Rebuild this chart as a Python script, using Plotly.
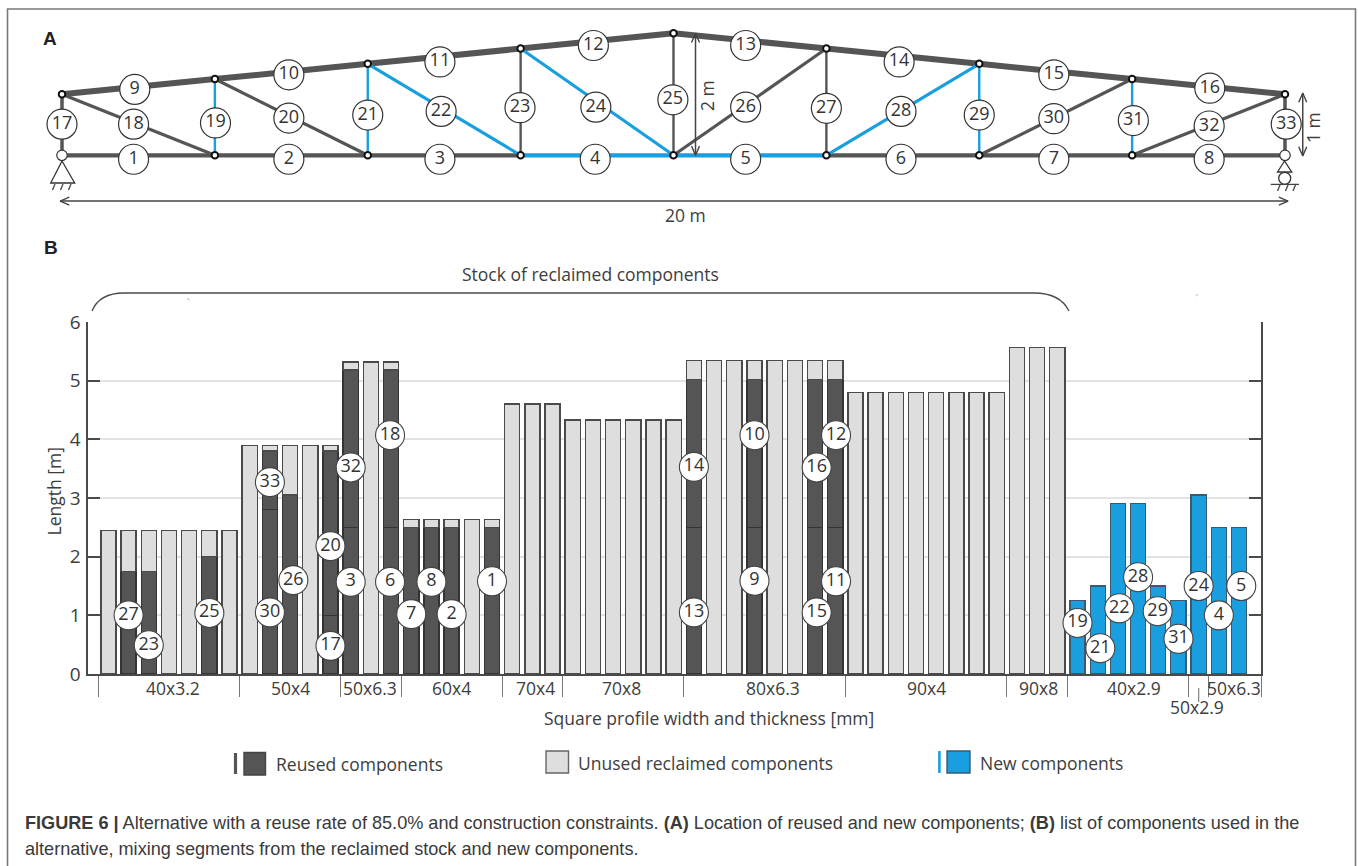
import plotly.graph_objects as go

W, H = 1358, 866
DARK, LIGHT, BLUE = "#555555", "#dedede", "#199fdf"
INK, TXT = "#3a3a3a", "#3d3d3d"
FONT, CAPFONT = "Open Sans", "Liberation Sans"

# ---------- Panel A: truss (metres) ----------
node_x = [0, 2.5, 5, 7.5, 10, 12.5, 15, 17.5, 20]
top_y = [1, 1.25, 1.5, 1.75, 2, 1.75, 1.5, 1.25, 1]
# member number -> (kind start node, kind end node); "b" bottom chord, "t" top chord
member_ids = list(range(1, 34))
member_ends = [
    ("b0", "b1"), ("b1", "b2"), ("b2", "b3"), ("b3", "b4"), ("b4", "b5"), ("b5", "b6"), ("b6", "b7"), ("b7", "b8"),
    ("t0", "t1"), ("t1", "t2"), ("t2", "t3"), ("t3", "t4"), ("t4", "t5"), ("t5", "t6"), ("t6", "t7"), ("t7", "t8"),
    ("b0", "t0"), ("t0", "b1"), ("b1", "t1"), ("t1", "b2"), ("b2", "t2"), ("t2", "b3"), ("b3", "t3"), ("t3", "b4"),
    ("b4", "t4"), ("b4", "t5"), ("b5", "t5"), ("b5", "t6"), ("b6", "t6"), ("b6", "t7"), ("b7", "t7"), ("b7", "t8"),
    ("b8", "t8"),
]
new_members = [4, 5, 19, 21, 22, 24, 28, 29, 31]
member_label_x = [1.17, 3.71, 6.18, 8.72, 11.18, 13.72, 16.22, 18.76,
                  1.19, 3.71, 6.18, 8.69, 11.18, 13.69, 16.22, 18.77,
                  0, 1.17, 2.51, 3.71, 5.0, 6.2, 7.49, 8.73, 9.99, 11.18, 12.5, 13.72, 15.0, 16.22, 17.52, 18.76, 20.02]
member_label_y = [-0.065] * 8 + [1.08, 1.32, 1.53, 1.80, 1.80, 1.53, 1.32, 1.10,
                  0.51, 0.51, 0.53, 0.61, 0.66, 0.72, 0.78, 0.79, 0.91, 0.79, 0.77, 0.72, 0.66, 0.60, 0.57, 0.48, 0.51]

# ---------- Panel B: stock and components (metres) ----------
group_labels = ["40x3.2", "50x4", "50x6.3", "60x4", "70x4", "70x8", "80x6.3", "90x4", "90x8", "40x2.9", "50x2.9", "50x6.3"]
group_counts = [7, 5, 3, 5, 3, 6, 8, 8, 3, 6, 1, 2]
group_label_pos = [3.2, 9.03, 12.96, 17.0, 21.13, 25.39, 32.92, 40.54, 46.09, 50.8, 53.92, 55.75]
stock_lengths = [2.45] * 7 + [3.9] * 5 + [5.32] * 3 + [2.63] * 5 + [4.6] * 3 + [4.33] * 6 + [5.34] * 8 + [4.8] * 8 + [5.57] * 3
reused_lower = [None, 1.75, 1.75, None, None, 2.0, None,
                None, 2.8, 3.05, None, 1.0,
                2.5, None, 2.5,
                2.5, 2.5, 2.5, None, 2.5,
                None, None, None,
                None, None, None, None, None, None,
                2.5, None, None, 2.5, None, None, 2.5, 2.5,
                None, None, None, None, None, None, None, None,
                None, None, None]
reused_upper = [None] * 8 + [1.0, None, None, 2.8,
                2.68, None, 2.68,
                None, None, None, None, None,
                None, None, None,
                None, None, None, None, None, None,
                2.52, None, None, 2.52, None, None, 2.52, 2.52,
                None, None, None, None, None, None, None, None,
                None, None, None]
new_lengths = [1.25, 1.5, 2.91, 2.91, 1.5, 1.25, 3.05, 2.5, 2.5]
circle_ids = [27, 23, 25, 33, 30, 26, 20, 17, 32, 3, 18, 6, 7, 8, 2, 1, 14, 13, 10, 9, 16, 15, 12, 11,
              19, 21, 22, 28, 29, 31, 24, 4, 5]
circle_x = [1, 2, 5, 8, 8, 9.16, 11, 11, 12, 12, 13.95, 13.95, 15, 16, 17, 19, 29, 29, 32, 32, 35.08, 35.08, 36.04, 36.04,
            48, 49.13, 50.07, 51, 51.97, 53, 54, 55, 56.11]
circle_y = [1.0, 0.49, 1.04, 3.27, 1.05, 1.6, 2.18, 0.48, 3.52, 1.57, 4.07, 1.57, 1.02, 1.57, 1.02, 1.58,
            3.53, 1.05, 4.07, 1.59, 3.52, 1.05, 4.07, 1.58,
            0.87, 0.44, 1.12, 1.65, 1.07, 0.6, 1.50, 1.0, 1.5]

n_stock = len(stock_lengths)
n_all = n_stock + len(new_lengths)
bars = list(range(n_all))
unused = []
for i in range(n_stock):
    unused.append(round(stock_lengths[i] - (reused_lower[i] or 0) - (reused_upper[i] or 0), 3))

fig = go.Figure()

PX0, PY0 = 108.4, 674.0   # centre of bar 0 and the zero line in pixels
PITCH, YS = 20.19, 58.67
x_lo, x_hi = (88.3 - PX0) / PITCH, (1261 - PX0) / PITCH

bar_common = dict(xaxis="x", yaxis="y", width=0.75, showlegend=False, hoverinfo="skip")
fig.add_bar(x=bars[:n_stock], y=reused_lower, marker=dict(color=DARK, line=dict(color="#333333", width=1.4)), name="Reused components", **bar_common)
fig.add_bar(x=bars[:n_stock], y=reused_upper, marker=dict(color=DARK, line=dict(color="#333333", width=1.4)), name="Reused components", **bar_common)
fig.add_bar(x=bars[:n_stock], y=unused, marker=dict(color=LIGHT, line=dict(color="#4a4a4a", width=1.4)), name="Unused reclaimed components", **bar_common)
fig.add_bar(x=bars[n_stock:], y=new_lengths, marker=dict(color=BLUE, line=dict(color="#3a5a70", width=1.2)), name="New components", **bar_common)

fig.add_scatter(x=circle_x, y=circle_y, xaxis="x", yaxis="y", mode="markers+text", text=[str(c) for c in circle_ids],
                textposition="middle center", cliponaxis=False, showlegend=False, hoverinfo="skip",
                marker=dict(size=29, color="white", line=dict(color="#444444", width=1.1)),
                textfont=dict(family=FONT, size=18, color="#333333"))


def node(name):
    i = int(name[1:])
    return node_x[i], (top_y[i] if name[0] == "t" else 0)


for mid, (a, b) in zip(member_ids, member_ends):
    xa, ya = node(a)
    xb, yb = node(b)
    if mid <= 8:
        w = 4.2
    elif mid <= 16:
        w = 6
    elif mid in (17, 33):
        w = 3.5
    elif mid in (19, 21, 23, 25, 27, 29, 31):
        w = 2.4
    else:
        w = 3.2
    fig.add_scatter(x=[xa, xb], y=[ya, yb], xaxis="x2", yaxis="y2", mode="lines", showlegend=False, hoverinfo="skip",
                    line=dict(color=BLUE if mid in new_members else DARK, width=w))

# dimension lines (through the truss scale); chevron arms in metres
DIM = "#444444"
a = 0.15
b = 0.065
dims = [
    ([-0.03, 20.05], [-0.75, -0.75], [(-0.03, -0.75, 1, 0), (20.05, -0.75, -1, 0)]),
    ([10.36, 10.36], [0.0, 2.0], [(10.36, 0.0, 0, 1), (10.36, 2.0, 0, -1)]),
    ([20.29, 20.29], [-0.01, 1.02], [(20.29, -0.01, 0, 1), (20.29, 1.02, 0, -1)]),
]
for xs, ys, heads in dims:
    fig.add_scatter(x=xs, y=ys, xaxis="x2", yaxis="y2", mode="lines", showlegend=False, hoverinfo="skip",
                    line=dict(color=DIM, width=1.5))
    for hx, hy, dx, dy in heads:
        px_ = [hx + dx * a + dy * b, hx, hx + dx * a - dy * b]
        py_ = [hy + dy * a + dx * b, hy, hy + dy * a - dx * b]
        fig.add_scatter(x=px_, y=py_, xaxis="x2", yaxis="y2", mode="lines", showlegend=False, hoverinfo="skip",
                        line=dict(color=DIM, width=1.4))

# inner nodes
fig.add_scatter(x=node_x + node_x[1:-1], y=top_y + [0] * 7, xaxis="x2", yaxis="y2", mode="markers", showlegend=False,
                hoverinfo="skip", marker=dict(size=6.5, color="white", line=dict(color="#111111", width=2)))
# support pins
fig.add_scatter(x=[node_x[0], node_x[-1]], y=[0, 0], xaxis="x2", yaxis="y2", mode="markers", showlegend=False,
                hoverinfo="skip", marker=dict(size=10.5, color="white", line=dict(color="#333333", width=1.2)))
# member labels
fig.add_scatter(x=member_label_x, y=member_label_y, xaxis="x2", yaxis="y2", mode="markers+text",
                text=[str(m) for m in member_ids], textposition="middle center", showlegend=False, hoverinfo="skip",
                marker=dict(size=30, color="white", line=dict(color="#333333", width=1.2)),
                textfont=dict(family=FONT, size=18, color="#333333"))


def fx(x):
    return x / W


def fy(y):
    return 1 - y / H


def seg(x0, y0, x1, y1, color="#444444", width=1.3):
    return dict(type="line", xref="paper", yref="paper", x0=fx(x0), y0=fy(y0), x1=fx(x1), y1=fy(y1),
                line=dict(color=color, width=width))


def path(points, color="#444444", width=1.3, fill=None):
    d = ""
    for cmd, *pts in points:
        d += cmd + " ".join(f"{fx(pts[i]):.5f},{fy(pts[i + 1]):.5f}" for i in range(0, len(pts), 2)) + " "
    s = dict(type="path", xref="paper", yref="paper", path=d.strip(), line=dict(color=color, width=width))
    if fill:
        s["fillcolor"] = fill
    return s


def rect(x0, y0, x1, y1, fill, line):
    return dict(type="rect", xref="paper", yref="paper", x0=fx(x0), y0=fy(y0), x1=fx(x1), y1=fy(y1),
                fillcolor=fill, line=dict(color=line, width=1.4))


shapes = [
    # frame
    path([("M", 7.5, 866), ("L", 7.5, 9), ("L", 1355.5, 9), ("L", 1355.5, 866)], color="#7a7a7a", width=1.6),
    # left support
    path([("M", 62, 161), ("L", 50.7, 183), ("L", 74.7, 183), ("Z",)], width=1.3, color="#333333"),
    seg(55, 184, 52.5, 190), seg(63, 184, 60.5, 190), seg(71, 184, 68.5, 190),
    # right support
    path([("M", 1284.5, 161), ("L", 1277.5, 172), ("L", 1291.7, 172), ("Z",)], width=1.3, color="#333333"),
    dict(type="circle", xref="paper", yref="paper", x0=fx(1278.7), x1=fx(1290.7), y0=fy(172.3), y1=fy(184.3),
         fillcolor="white", line=dict(color="#333333", width=1.3)),
    seg(1270.7, 184.4, 1299, 184.4), seg(1280, 185, 1277.5, 191), seg(1288, 185, 1285.5, 191), seg(1295.5, 185, 1293, 191),
    # brace
    path([("M", 92, 311), ("C", 97, 299, 108, 293, 124, 293), ("L", 1034, 293), ("C", 1050, 293, 1063, 299, 1069, 311)],
         color="#4a4a4a", width=1.3),
    seg(187, 298.5, 189.5, 300, color="#b5b5b5", width=1), seg(1195.5, 296, 1198, 294, color="#b5b5b5", width=1),
    # legend swatches
    seg(235.5, 753, 235.5, 774, color=DARK, width=3.2),
    rect(244, 752.5, 265.5, 775, DARK, "#444444"),
    rect(546, 751, 568.5, 773, LIGHT, "#666666"),
    seg(939.4, 751, 939.4, 773, color=BLUE, width=2.6),
    rect(947, 751, 970, 773, BLUE, "#3a5a70"),
    # short tick of the 50x2.9 group
    seg(1198.7, 688, 1198.7, 702, color="#777777", width=1.1),
]


def note(text, x, y, size=17.5, family=FONT, color=TXT, anchor="left", angle=0):
    return dict(text=text, xref="paper", yref="paper", x=fx(x), y=fy(y), xanchor=anchor, yanchor="middle",
                showarrow=False, textangle=angle, font=dict(family=family, size=size, color=color))


# group labels through the bar scale
group_ann = []
for i, (lab, pos) in enumerate(zip(group_labels, group_label_pos)):
    shift = -33 if lab == "50x2.9" else -14
    group_ann.append(dict(text=lab, xref="x", yref="y", x=pos, y=0, yanchor="middle", xanchor="center",
                          yshift=shift, showarrow=False, font=dict(family=FONT, size=17.5, color=TXT)))

cap1 = ("<b>FIGURE 6 |</b> Alternative with a reuse rate of 85.0% and construction constraints. <b>(A)</b> Location of "
        "reused and new components; <b>(B)</b> list of components used in the")
cap2 = "alternative, mixing segments from the reclaimed stock and new components."

annotations = group_ann + [
    note("<b>A</b>", 41, 39, size=19, family=CAPFONT, color="#222222"),
    note("<b>B</b>", 42, 248, size=19, family=CAPFONT, color="#222222"),
    note("20 m", 685, 215, anchor="center"),
    note("2 m", 707, 96, anchor="center", angle=-90),
    note("1 m", 1313, 128, anchor="center", angle=-90),
    note("Stock of reclaimed components", 590, 274, anchor="center"),
    note("Square profile width and thickness [mm]", 708.5, 718, anchor="center"),
    note("Length [m]", 53, 491.5, anchor="center", angle=-90),
    note("Reused components", 273.5, 763.5),
    note("Unused reclaimed components", 575.5, 762.5),
    note("New components", 977.5, 762.5),
    note(cap1, 22.5, 822.5, size=18.1, family=CAPFONT, color="#3a3a3a"),
    note(cap2, 22.5, 849, size=18.1, family=CAPFONT, color="#3a3a3a"),
]

boundaries = [-0.5]
for c in group_counts:
    boundaries.append(boundaries[-1] + c)
boundaries[-1] = x_hi

px_m, py_m = 61.15, 61.0
top_h = 240
fig.update_layout(
    width=W, height=H, margin=dict(l=0, r=0, t=0, b=0, pad=0, autoexpand=False), paper_bgcolor="white", plot_bgcolor="rgba(0,0,0,0)",
    barmode="stack", showlegend=False, shapes=shapes, annotations=annotations,
    xaxis=dict(domain=[88.3 / W, 1261 / W], range=[x_lo, x_hi], tickmode="array", tickvals=boundaries,
               ticks="outside", ticklen=21, tickwidth=1.1, tickcolor="#777777", showticklabels=False, showgrid=False,
               showline=True, linecolor="#4a4a4a", linewidth=1.6, zeroline=False, automargin=False),
    yaxis=dict(domain=[1 - PY0 / H, 1 - 322 / H], range=[0, 6], tickmode="array", tickvals=[0, 1, 2, 3, 4, 5, 6],
               ticks="inside", ticklen=12, tickwidth=1.6, tickcolor="#4a4a4a", mirror="ticks", showline=True,
               linecolor="#4a4a4a", linewidth=1.6, showgrid=True, gridcolor="#e3e3e3", gridwidth=1.5, zeroline=False,
               tickfont=dict(family=FONT, size=19, color=TXT), ticklabelstandoff=2, automargin=False),
    xaxis2=dict(domain=[0, 1], range=[-62 / px_m, (W - 62) / px_m], visible=False, anchor="y2", fixedrange=True),
    yaxis2=dict(domain=[1 - top_h / H, 1], range=[(155.3 - top_h) / py_m, 155.3 / py_m], visible=False, anchor="x2",
                fixedrange=True),
)

fig.write_html("out.html", config=dict(displayModeBar=False),
               post_script="document.body.style.margin='0';document.body.style.overflow='hidden';")
